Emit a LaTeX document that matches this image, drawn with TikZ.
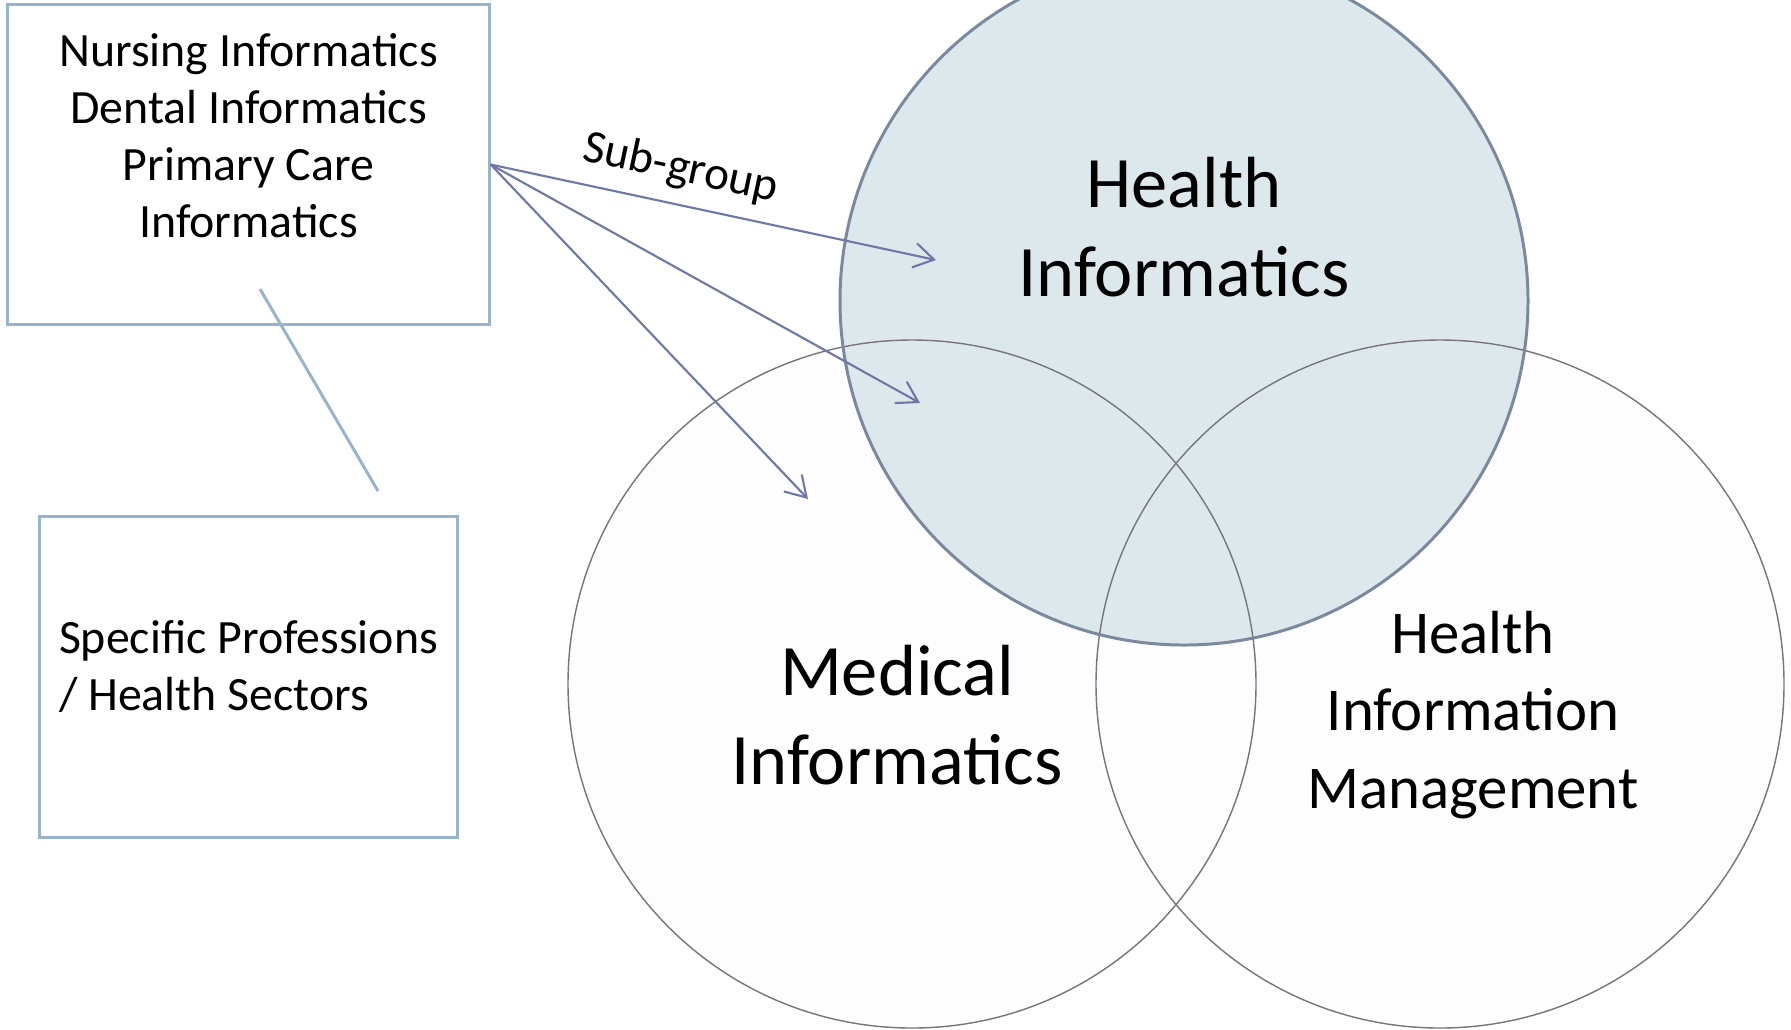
\documentclass[tikz,border=0pt]{standalone}
\usepackage{fontspec}
\setmainfont{Carlito}
\usepackage{tikz}
\usetikzlibrary{arrows,arrows.meta,%
                shapes,positioning}

\definecolor{boxblue}{RGB}{152,180,204}
\definecolor{arrowblue}{RGB}{110,120,166}
\definecolor{hifill}{RGB}{221,232,237}
\definecolor{hiline}{RGB}{122,137,157}
\definecolor{lowfill}{RGB}{253,253,255}
\definecolor{lowline}{RGB}{118,118,122}

\begin{document}
\begin{tikzpicture}[x=0.01cm,y=-0.01cm,
  txtbox/.style={draw=boxblue,line width=0.85pt,inner sep=0pt},
  smalltxt/.style={font=\fontsize{13.6}{16.2}\selectfont,inner sep=0pt},
  bigtxt/.style={font=\fontsize{20.6}{25.3}\selectfont,align=center,inner sep=0pt},
  midtxt/.style={font=\fontsize{17.3}{22}\selectfont,align=center,inner sep=0pt},
  venn/.style={circle,minimum size=6.88cm,inner sep=0pt},
  subarrow/.style={draw=arrowblue,line width=0.6pt,-{Straight Barb[length=5.7pt,width=7pt]}}]

\useasboundingbox (0,0) rectangle (1791,1029);
\clip (0,0) rectangle (1791,1029);

% the three fields
\node[venn,fill=lowfill] (medcirc) at (912,684) {};
\node[venn,fill=lowfill] (himcirc) at (1440,684) {};
\node[venn,fill=hifill] (hicirc) at (1184,301) {};
\draw[lowline,line width=0.4pt] (medcirc.center) circle[radius=344];
\draw[lowline,line width=0.4pt] (himcirc.center) circle[radius=344];
\draw[hiline,line width=0.85pt] (hicirc.center) circle[radius=344];

\node[bigtxt] (hitext) at (1184,227) {Health\\Informatics};
\node[bigtxt] (medtext) at (897,715) {Medical\\Informatics};
\node[midtxt] (himtext) at (1473,715) {Health\\Information\\Management};

% boxes on the left
\node[txtbox,minimum width=4.81cm,minimum height=3.19cm] (grpbox) at (248.5,164.5) {};
\node[smalltxt,align=center] (grptext) at (248.5,136)
  {Nursing Informatics\\Dental Informatics\\Primary Care\\Informatics};
\node[txtbox,minimum width=4.17cm,minimum height=3.2cm] (secbox) at (248.5,677) {};
\node[smalltxt,align=left] (sectext) at (248.5,666)
  {Specific Professions\\/ Health Sectors};

\coordinate (linktop) at (260,289);
\coordinate (linkbot) at (378,491);
\draw[boxblue,line width=0.85pt] (linktop) -- (linkbot);

% sub-group arrows
\coordinate (hitip) at (936,260);
\coordinate (bothtip) at (920,403);
\coordinate (medtip) at (808,499);
\draw[subarrow] (grpbox.east) -- (hitip)
  node[pos=0.41,sloped,above=4pt,inner sep=0pt,font=\fontsize{13.4}{16}\selectfont] (sublabel) {Sub-group};
\draw[subarrow] (grpbox.east) -- (bothtip);
\draw[subarrow] (grpbox.east) -- (medtip);

\end{tikzpicture}
\end{document}
